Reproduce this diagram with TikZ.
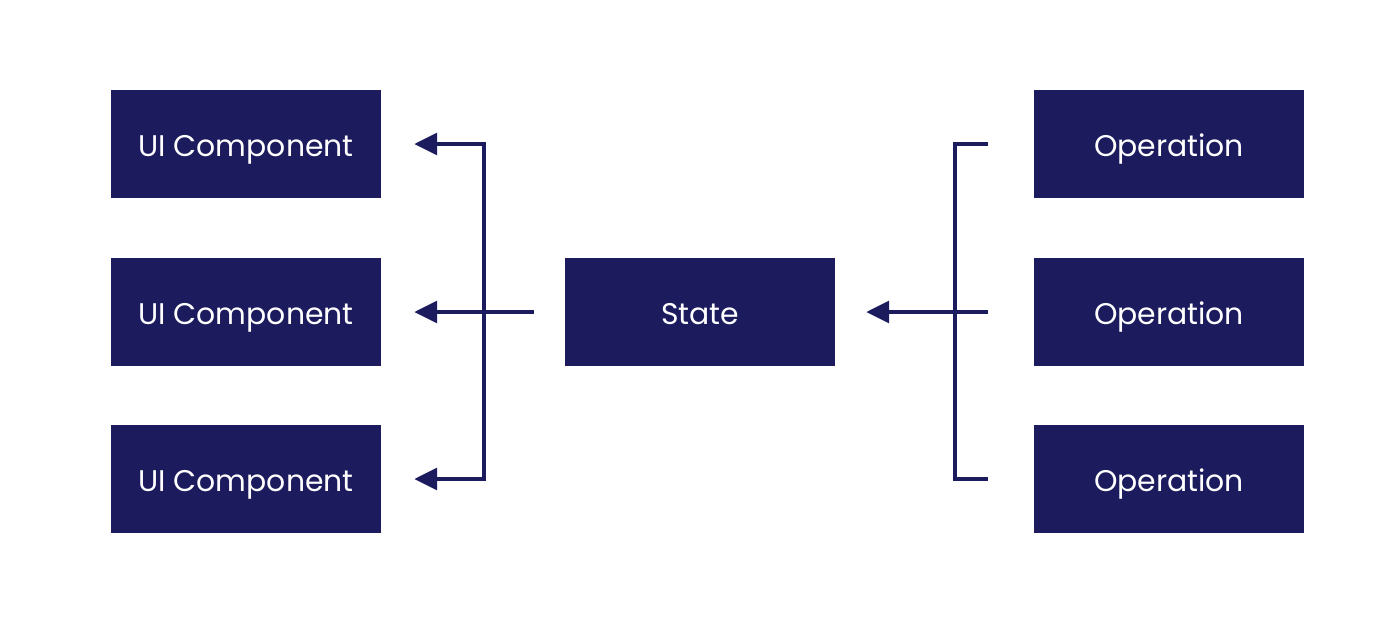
\documentclass[tikz,border=0pt]{standalone}
\usepackage{fontspec}
\setmainfont{Poppins}
\usepackage{xcolor}
\usetikzlibrary{calc}
\usetikzlibrary{arrows.meta}
\definecolor{navy}{HTML}{1B1B5E}

\begin{document}
\begin{tikzpicture}[x=0.02cm, y=-0.02cm,
	box/.style={fill=navy, minimum width=270*0.02cm, minimum height=108*0.02cm, inner sep=0pt, text=white, text height=14.6pt, text depth=0pt, font=\fontsize{17}{20}\selectfont},
	link/.style={navy, line width=1.9pt},
	arr/.style={link, -{Triangle[length=13pt, width=12.5pt]}}]
	\useasboundingbox (0, 0) rectangle (1400, 623);
	% Draw boxes
	\node[box] (ui1) at (246, 144) {UI Component};
	\node[box] (ui2) at (246, 312) {UI Component};
	\node[box] (ui3) at (246, 479) {UI Component};
	\node[box] (state) at (700, 312) {State};
	\node[box] (op1) at (1169, 144) {Operation};
	\node[box] (op2) at (1169, 312) {Operation};
	\node[box] (op3) at (1169, 479) {Operation};
	\coordinate (jl) at (484, 312);
	\coordinate (jr) at (955, 312);
	% Draw connectors
	\draw[arr, shorten <=31*0.02cm, shorten >=33*0.02cm] (state.west) -- (ui2.east);
	\draw[arr, shorten >=33*0.02cm] (jl) |- (ui1.east);
	\draw[arr, shorten >=33*0.02cm] (jl) |- (ui3.east);
	\draw[arr, shorten <=46*0.02cm, shorten >=31*0.02cm] (op2.west) -- (state.east);
	\draw[link, shorten <=46*0.02cm] (op1.west) -| (jr);
	\draw[link, shorten <=46*0.02cm] (op3.west) -| (jr);
\end{tikzpicture}
\end{document}
